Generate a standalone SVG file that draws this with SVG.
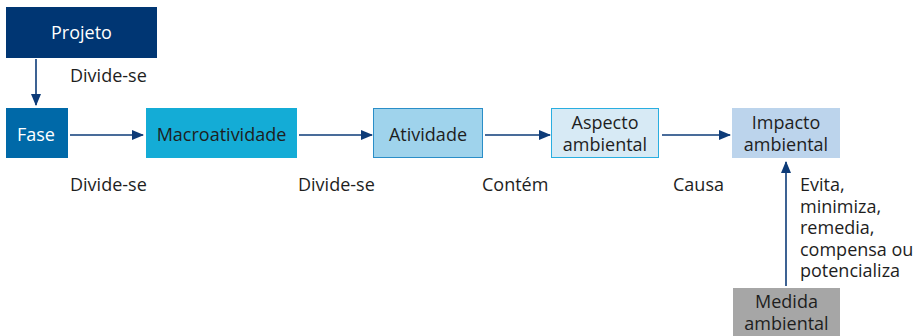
<svg xmlns="http://www.w3.org/2000/svg" width="918" height="336" viewBox="0 0 918 336">
<style>
text{font-family:"Open Sans","Noto Sans","Liberation Sans",sans-serif;font-size:18px;fill:#1e1e1e}
.c{text-anchor:middle}
.w{fill:#ffffff}
.ln{stroke:#0d3b78;stroke-width:1.6;fill:none}
</style>
<defs>
<marker id="ah" markerWidth="12" markerHeight="10" refX="11" refY="5" orient="auto" markerUnits="userSpaceOnUse">
<path d="M0,0 L12,5 L0,10 Z" fill="#0d3b78"/>
</marker>
</defs>
<rect width="918" height="336" fill="#ffffff"/>
<g id="connectors">
<line class="ln" x1="36" y1="59" x2="36" y2="105" marker-end="url(#ah)"/>
<line class="ln" x1="70" y1="135" x2="143" y2="135" marker-end="url(#ah)"/>
<line class="ln" x1="299" y1="135" x2="372" y2="135" marker-end="url(#ah)"/>
<line class="ln" x1="485" y1="135" x2="550" y2="135" marker-end="url(#ah)"/>
<line class="ln" x1="662" y1="135" x2="730" y2="135" marker-end="url(#ah)"/>
<line class="ln" x1="786" y1="286" x2="786" y2="162" marker-end="url(#ah)"/>
<text x="70" y="82">Divide-se</text>
<text x="70" y="191">Divide-se</text>
<text x="298" y="191">Divide-se</text>
<text x="482" y="191">Contém</text>
<text x="673" y="191">Causa</text>
<text x="800" y="191">Evita,</text>
<text x="800" y="212.5">minimiza,</text>
<text x="800" y="234">remedia,</text>
<text x="800" y="255.5">compensa ou</text>
<text x="800" y="277">potencializa</text>
</g>
<g id="projeto">
<rect x="6" y="7" width="151" height="51" fill="#003673"/>
<text class="c w" x="81.5" y="39">Projeto</text>
</g>
<g id="fase">
<rect x="6" y="108" width="62" height="50" fill="#0069a8"/>
<text class="c w" x="36" y="141">Fase</text>
</g>
<g id="macroatividade">
<rect x="146" y="108" width="151" height="50" fill="#14acd6"/>
<text class="c" x="221.5" y="141">Macroatividade</text>
</g>
<g id="atividade">
<rect x="373.5" y="108.5" width="109" height="49" fill="#9fd3ec" stroke="#2a8ec8" stroke-width="1"/>
<text class="c" x="428" y="141">Atividade</text>
</g>
<g id="aspecto">
<rect x="551.5" y="108.5" width="107" height="49" fill="#d7eaf5" stroke="#29aee0" stroke-width="1"/>
<text class="c" x="605" y="129">Aspecto</text>
<text class="c" x="605" y="151">ambiental</text>
</g>
<g id="impacto">
<rect x="732" y="108" width="108" height="50" fill="#bcd4ec"/>
<text class="c" x="786" y="129">Impacto</text>
<text class="c" x="786" y="151">ambiental</text>
</g>
<g id="medida">
<rect x="733" y="288" width="107" height="48" fill="#a6a6a6"/>
<text class="c" x="786.5" y="308">Medida</text>
<text class="c" x="786.5" y="330">ambiental</text>
</g>
</svg>
